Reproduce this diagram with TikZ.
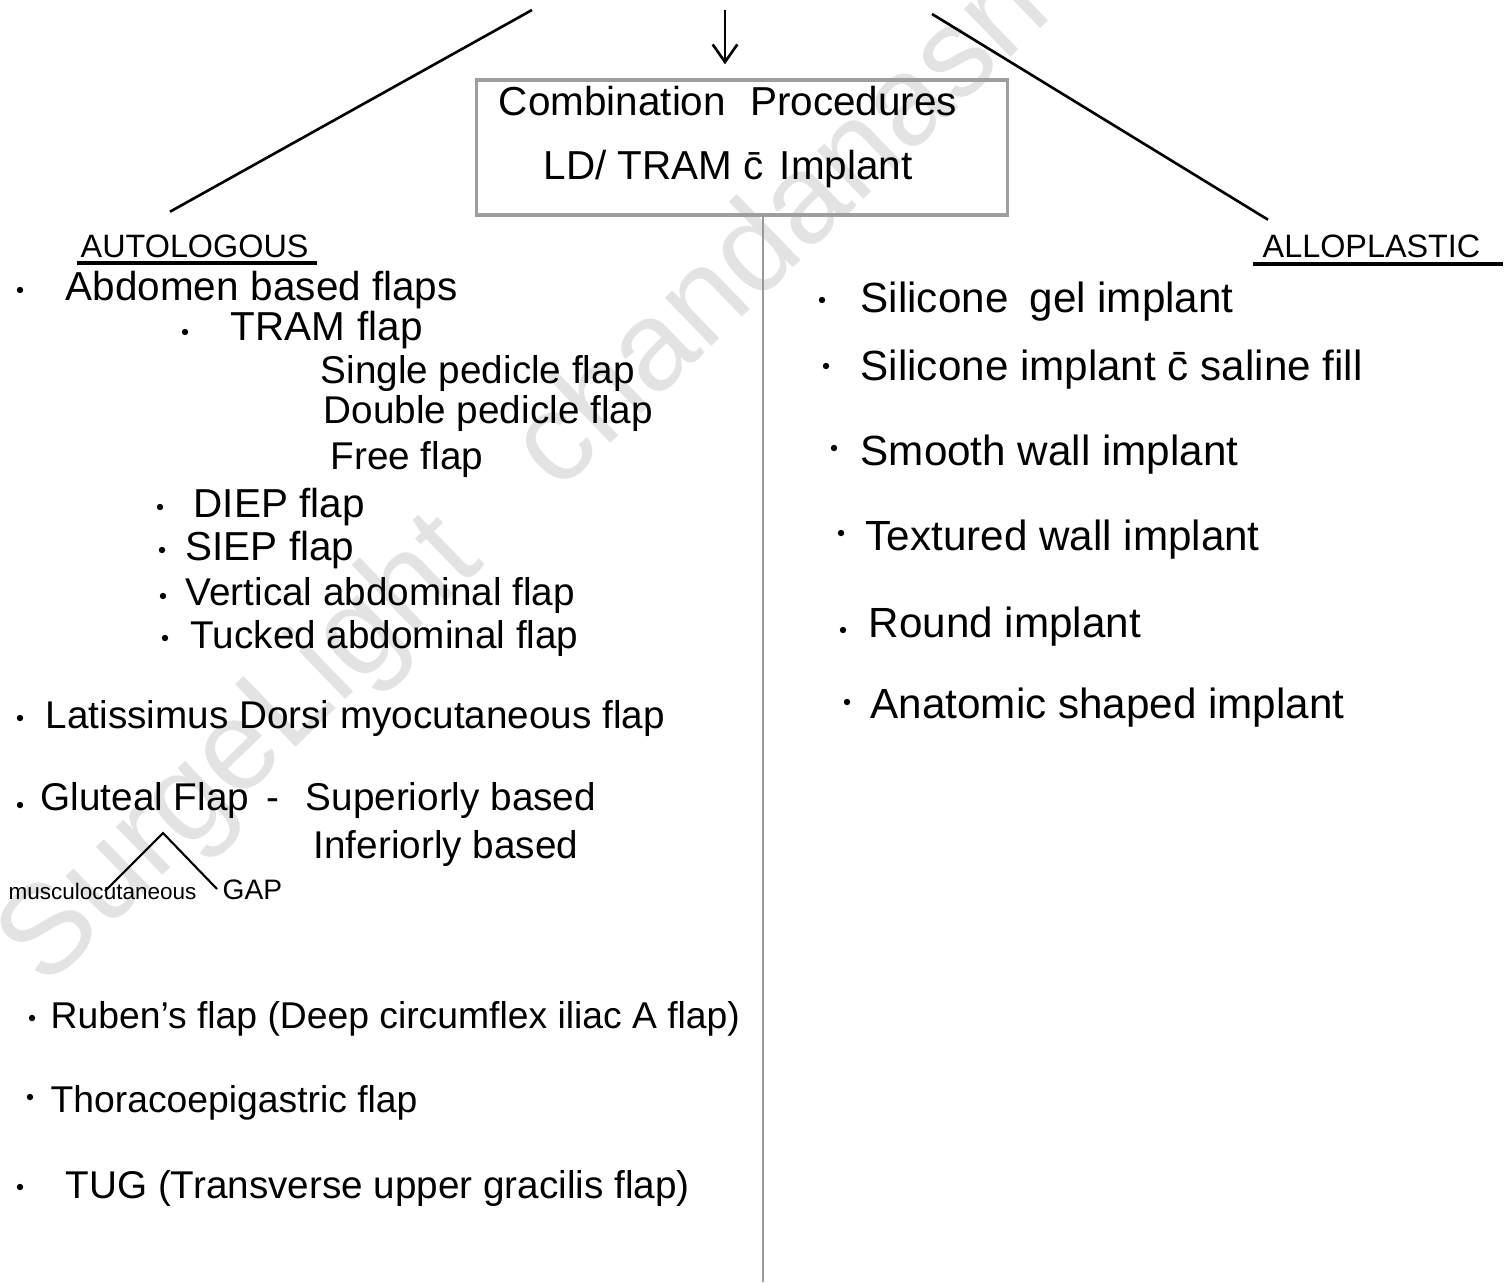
\documentclass[tikz,border=0pt]{standalone}
\usepackage{fontspec}
\setmainfont{Liberation Sans}
\usetikzlibrary{arrows.meta}
\begin{document}
\begin{tikzpicture}[x=0.01cm,y=-0.01cm,
  txt/.style={anchor=base west, inner sep=0pt, font=\fontsize{11.5}{13}\selectfont},
  txtR/.style={txt, font=\fontsize{12}{14}\selectfont},
  txtS/.style={txt, font=\fontsize{11}{13}\selectfont},
  head/.style={anchor=base west, inner sep=0pt, font=\fontsize{9.2}{11}\selectfont},
  tiny/.style={anchor=base west, inner sep=0pt, font=\fontsize{6.4}{8}\selectfont},
  ink/.style={line width=0.75pt, black},
  grayline/.style={line width=0.6pt, black!40},
  boxstyle/.style={draw=black!38, line width=0.9pt, minimum width=5.3cm, minimum height=1.35cm, inner sep=0pt},
  arr/.style={ink, -{Straight Barb[length=5pt,width=7pt]}},
  bul/.style={fill=black},
  wm/.style={anchor=base west, inner sep=0pt, text=black!11, font=\fontsize{36}{36}\selectfont, rotate=44}
]
\useasboundingbox (0,0) rectangle (1507,1282);
% watermark
\begin{scope}
\clip (0,0) rectangle (1507,1282);
\node[wm] (wmark) at (45,990) {SurgeLight\hspace{0.8em}chandanasrie};
\end{scope}

% central box
\node[boxstyle] (box) at (742,147.5) {};
\node[anchor=center, inner sep=0pt, align=center, font=\fontsize{11.5}{13}\selectfont] (boxtxt) at (728,137)
  {Combination\hspace{0.6em}Procedures\\[5pt] LD/ TRAM \=c\hspace{0.4em}Implant};

% headings
\node[head] (autol) at (80,257) {AUTOLOGOUS};
\node[head] (allo) at (1262,257) {ALLOPLASTIC};
\draw[ink, line width=0.9pt] ([shift={(-3,6)}]autol.base west) -- ([shift={(8,6)}]autol.base east);
\draw[ink, line width=0.9pt] ([shift={(-9,7)}]allo.base west) -- ([shift={(22,7)}]allo.base east);

% top connectors
\coordinate (tl) at (532,10);
\coordinate (tr) at (932,14);
\coordinate (arrtop) at (725,10);
\coordinate (vbot) at (763,1282);
\draw[ink] (tl) -- ([shift={(90,-22)}]autol.north west);
\draw[ink] (tr) -- ([shift={(6,-14)}]allo.north west);
\draw[arr] (arrtop) -- ([yshift=4pt]arrtop |- box.north);
\draw[grayline] (vbot |- box.south) -- (vbot);

% left column
\node[txt] (abd) at (65,300) {Abdomen\hspace{0.3em}based flaps};
\node[txt] (tram) at (230,340) {TRAM\hspace{0.3em}flap};
\node[txtS] (single) at (320,383) {Single pedicle flap};
\node[txtS] (double) at (323,423) {Double pedicle flap};
\node[txtS] (free) at (330,469) {Free flap};
\node[txt] (diep) at (193,517) {DIEP flap};
\node[txt] (siep) at (185,560) {SIEP flap};
\node[txtS] (vert) at (185,605) {Vertical abdominal flap};
\node[txtS] (tuck) at (190,648) {Tucked abdominal flap};
\node[txtS] (lat) at (45,728) {Latissimus Dorsi myocutaneous flap};
\node[txtS] (glut) at (40,810) {Gluteal Flap \,-};
\node[txtS] (sup) at (305,810) {Superiorly based};
\node[txtS] (inf) at (313,858) {Inferiorly based};
\node[tiny] (musc) at (8,899) {musculocutaneous};
\node[tiny, font=\fontsize{8}{9}\selectfont] (gap) at (222,899) {GAP};
\coordinate (apex) at (163,833);
\draw[ink, line width=0.6pt] ([shift={(97,-8)}]musc.base west) -- (apex) -- ([shift={(-5,-10)}]gap.base west);
\node[txtS, font=\fontsize{10.6}{12}\selectfont] (ruben) at (50,1028) {Ruben's flap (Deep circumflex iliac A flap)};
\node[txtS, font=\fontsize{10.6}{12}\selectfont] (thor) at (50,1112) {Thoracoepigastric flap};
\node[txtS] (tug) at (65,1198) {TUG (Transverse upper gracilis flap)};

% right column
\node[txtR] (sgel) at (860,312) {Silicone\hspace{0.5em}gel implant};
\node[txtR] (ssal) at (860,380) {Silicone implant \=c saline fill};
\node[txtR] (smooth) at (860,465) {Smooth wall implant};
\node[txtR] (text) at (865,550) {Textured wall implant};
\node[txtR] (round) at (868,637) {Round implant};
\node[txtR] (anat) at (870,718) {Anatomic shaped implant};

% bullets
\foreach \p in {(20,290),(185,332),(160,507),(162,550),(163,596),(165,638),(20,718),(20,805),(32,1018),(30,1097),(20,1187),
                (822,300),(826,366),(834,448),(841,533),(843,630),(847,702)}
  \fill[bul] \p circle (3.2);
\end{tikzpicture}
\end{document}
